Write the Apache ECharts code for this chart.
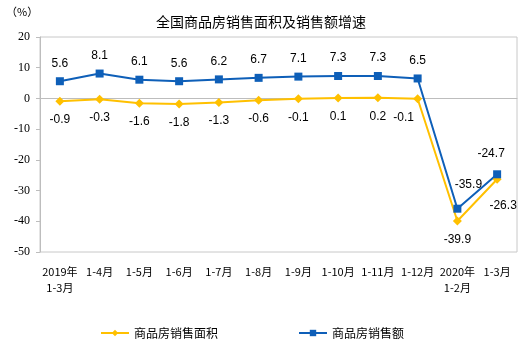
<!DOCTYPE html>
<html>
<head>
<meta charset="utf-8">
<script src="https://cdn.jsdelivr.net/npm/echarts@6/dist/echarts.min.js"></script>
<style>html,body{margin:0;padding:0;background:#fff}#main{width:522px;height:352px}</style>
</head>
<body>
<div id="main"></div>
<script>
var categories = ['2019年\n1-3月', '1-4月', '1-5月', '1-6月', '1-7月', '1-8月', '1-9月', '1-10月', '1-11月', '1-12月', '2020年\n1-2月', '1-3月'];
var areaGrowth = [-0.9, -0.3, -1.6, -1.8, -1.3, -0.6, -0.1, 0.1, 0.2, -0.1, -39.9, -26.3];
var salesGrowth = [5.6, 8.1, 6.1, 5.6, 6.2, 6.7, 7.1, 7.3, 7.3, 6.5, -35.9, -24.7];

var cjk = '"Noto Sans CJK SC", sans-serif';
var num = '"Liberation Sans", Arial, sans-serif';

// per-point label tweaks for the last points
function areaData() {
    return areaGrowth.map(function (v, i) {
        if (i === 9) return { value: v, label: { offset: [-14, 0] } };
        if (i === 11) return { value: v, label: { offset: [6, 8] } };
        return v;
    });
}
function salesData() {
    return salesGrowth.map(function (v, i) {
        if (i === 10) return { value: v, label: { offset: [11, -6] } };
        if (i === 11) return { value: v, label: { offset: [-6, -3] } };
        return v;
    });
}

var myChart = echarts.init(document.getElementById('main'));
var option = {
    animation: false,
    title: {
        text: '全国商品房销售面积及销售额增速',
        left: 'center',
        top: 10,
        textStyle: { fontFamily: cjk, fontSize: 14, fontWeight: 'normal', color: '#000' }
    },
    graphic: [{
        type: 'text', left: 6, top: 6,
        style: { text: '（%）', fontFamily: cjk, fontSize: 11, fill: '#000' }
    }],
    grid: { left: 40, right: 5, top: 37, bottom: 100, show: true, borderColor: '#c8c8c8', borderWidth: 1 },
    legend: {
        left: 95,
        bottom: 8,
        itemGap: 80,
        itemWidth: 28,
        itemHeight: 8,
        textStyle: { fontFamily: cjk, fontSize: 12, color: '#000' },
        data: ['商品房销售面积', '商品房销售额']
    },
    xAxis: {
        type: 'category',
        data: categories,
        boundaryGap: true,
        axisLine: { lineStyle: { color: '#bdbdbd' } },
        axisTick: { inside: true, length: 4, lineStyle: { color: '#bdbdbd' } },
        axisLabel: { interval: 0, fontFamily: cjk, fontSize: 11, color: '#000', margin: 12, lineHeight: 16 }
    },
    yAxis: {
        type: 'value',
        min: -50, max: 20, interval: 10,
        splitLine: { show: false },
        axisLine: { show: true, lineStyle: { color: '#bdbdbd' } },
        axisTick: { show: true, length: 4, lineStyle: { color: '#bdbdbd' } },
        axisLabel: { fontFamily: '"Liberation Serif", serif', fontSize: 12, color: '#000', margin: 10 }
    },
    series: [
        {
            name: '商品房销售面积',
            type: 'line',
            data: areaData(),
            symbol: 'diamond',
            symbolSize: 9,
            itemStyle: { color: '#FFC000' },
            lineStyle: { width: 2, color: '#FFC000' },
            label: { show: true, position: 'bottom', distance: 8, fontFamily: num, fontSize: 12, color: '#000' }
        },
        {
            name: '商品房销售额',
            type: 'line',
            data: salesData(),
            symbol: 'rect',
            symbolSize: 8,
            itemStyle: { color: '#0E5FB8' },
            lineStyle: { width: 2, color: '#0E5FB8' },
            label: { show: true, position: 'top', distance: 8, fontFamily: num, fontSize: 12, color: '#000' }
        }
    ]
};
myChart.setOption(option);
</script>
</body>
</html>
